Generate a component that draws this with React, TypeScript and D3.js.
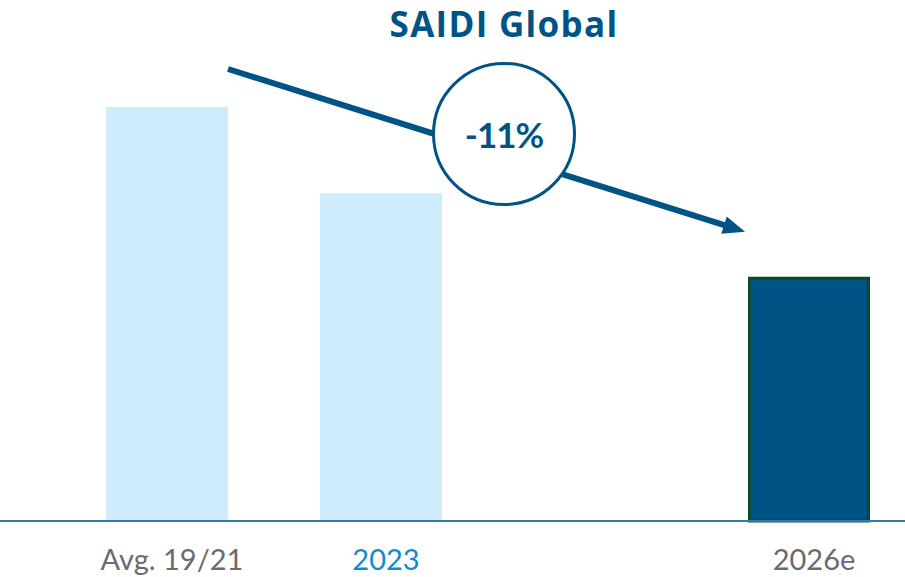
import * as d3 from 'd3';
import { useEffect, useRef } from 'react';

// SAIDI index (Avg. 19/21 = 100)
const categories = ['Avg. 19/21', '2023', '', '2026e'];
const values = [100, 79.2, 59];
const barCats = ['Avg. 19/21', '2023', '2026e'];
const changeLabel = '-11%';
const title = 'SAIDI Global';

const W = 905;
const H = 577;
const FONT = 'Lato, "Open Sans", sans-serif';
const BOLD_FONT = '"Open Sans", Lato, sans-serif';

export default function App() {
  const ref = useRef<SVGSVGElement>(null);

  useEffect(() => {
    const svg = d3.select(ref.current);
    svg.selectAll('*').remove();

    const baseline = 521;

    const x = d3.scaleBand()
      .domain(categories)
      .range([60, 916])
      .paddingInner(0.43)
      .paddingOuter(0.215);

    const y = d3.scaleLinear()
      .domain([0, 100])
      .range([baseline, 107]);

    const data = barCats.map((c, i) => ({ cat: c, value: values[i] }));

    // bars
    svg.append('g')
      .selectAll('rect')
      .data(data)
      .enter()
      .append('rect')
      .attr('x', d => x(d.cat)! + (d.cat === '2026e' ? 1.5 : 0))
      .attr('y', d => y(d.value) + (d.cat === '2026e' ? 1.5 : 0))
      .attr('width', d => x.bandwidth() - (d.cat === '2026e' ? 3 : 0))
      .attr('height', d => baseline - y(d.value) - (d.cat === '2026e' ? 1.5 : 0))
      .attr('fill', d => d.cat === '2026e' ? '#005485' : '#cfecfd')
      .attr('stroke', d => d.cat === '2026e' ? '#0c4a2c' : 'none')
      .attr('stroke-width', 3);

    // baseline
    svg.append('line')
      .attr('x1', 0)
      .attr('x2', W)
      .attr('y1', baseline)
      .attr('y2', baseline)
      .attr('stroke', '#3a78a8')
      .attr('stroke-width', 2);

    // category labels
    svg.append('g')
      .selectAll('text')
      .data(barCats)
      .enter()
      .append('text')
      .attr('x', d => x(d)! + x.bandwidth() / 2 + 5)
      .attr('y', 570)
      .attr('text-anchor', 'middle')
      .style('font-family', FONT)
      .style('font-size', '29px')
      .attr('fill', d => d === '2023' ? '#1787cf' : '#6b6b6b')
      .text(d => d);

    // title
    svg.append('text')
      .attr('x', 504)
      .attr('y', 37)
      .attr('text-anchor', 'middle')
      .style('font-family', BOLD_FONT)
      .style('font-size', '35px')
      .style('font-weight', 700)
      .style('letter-spacing', '1.3px')
      .attr('fill', '#005485')
      .text(title);

    // trend arrow from first bar to last bar
    const x0 = x(barCats[0])! + x.bandwidth();
    const y0 = y(values[0]) - 38;
    const x1 = x(barCats[2])! - 3;
    const y1 = y(values[2]) - 45;
    const ang = Math.atan2(y1 - y0, x1 - x0);
    const headLen = 22;
    const headHalf = 9;
    const bx = x1 - headLen * Math.cos(ang);
    const by = y1 - headLen * Math.sin(ang);

    svg.append('line')
      .attr('x1', x0)
      .attr('y1', y0)
      .attr('x2', bx + 2 * Math.cos(ang))
      .attr('y2', by + 2 * Math.sin(ang))
      .attr('stroke', '#005485')
      .attr('stroke-width', 6);

    svg.append('polygon')
      .attr('points', [
        [x1, y1],
        [bx + headHalf * Math.sin(ang), by - headHalf * Math.cos(ang)],
        [bx - headHalf * Math.sin(ang), by + headHalf * Math.cos(ang)],
      ].map(p => p.join(',')).join(' '))
      .attr('fill', '#005485');

    // change bubble
    svg.append('circle')
      .attr('cx', 504)
      .attr('cy', 134)
      .attr('r', 70.5)
      .attr('fill', '#fff')
      .attr('stroke', '#005485')
      .attr('stroke-width', 3);

    svg.append('text')
      .attr('x', 504)
      .attr('y', 148)
      .attr('text-anchor', 'middle')
      .style('font-family', FONT)
      .style('font-size', '35px')
      .style('font-weight', 700)
      .style('letter-spacing', '-1px')
      .attr('fill', '#005485')
      .text(changeLabel);

    return () => {
      svg.selectAll('*').remove();
    };
  }, []);

  return (
    <svg
      ref={ref}
      width={W}
      height={H}
      style={{ position: 'absolute', left: 0, top: 0, background: '#fff' }}
    />
  );
}
